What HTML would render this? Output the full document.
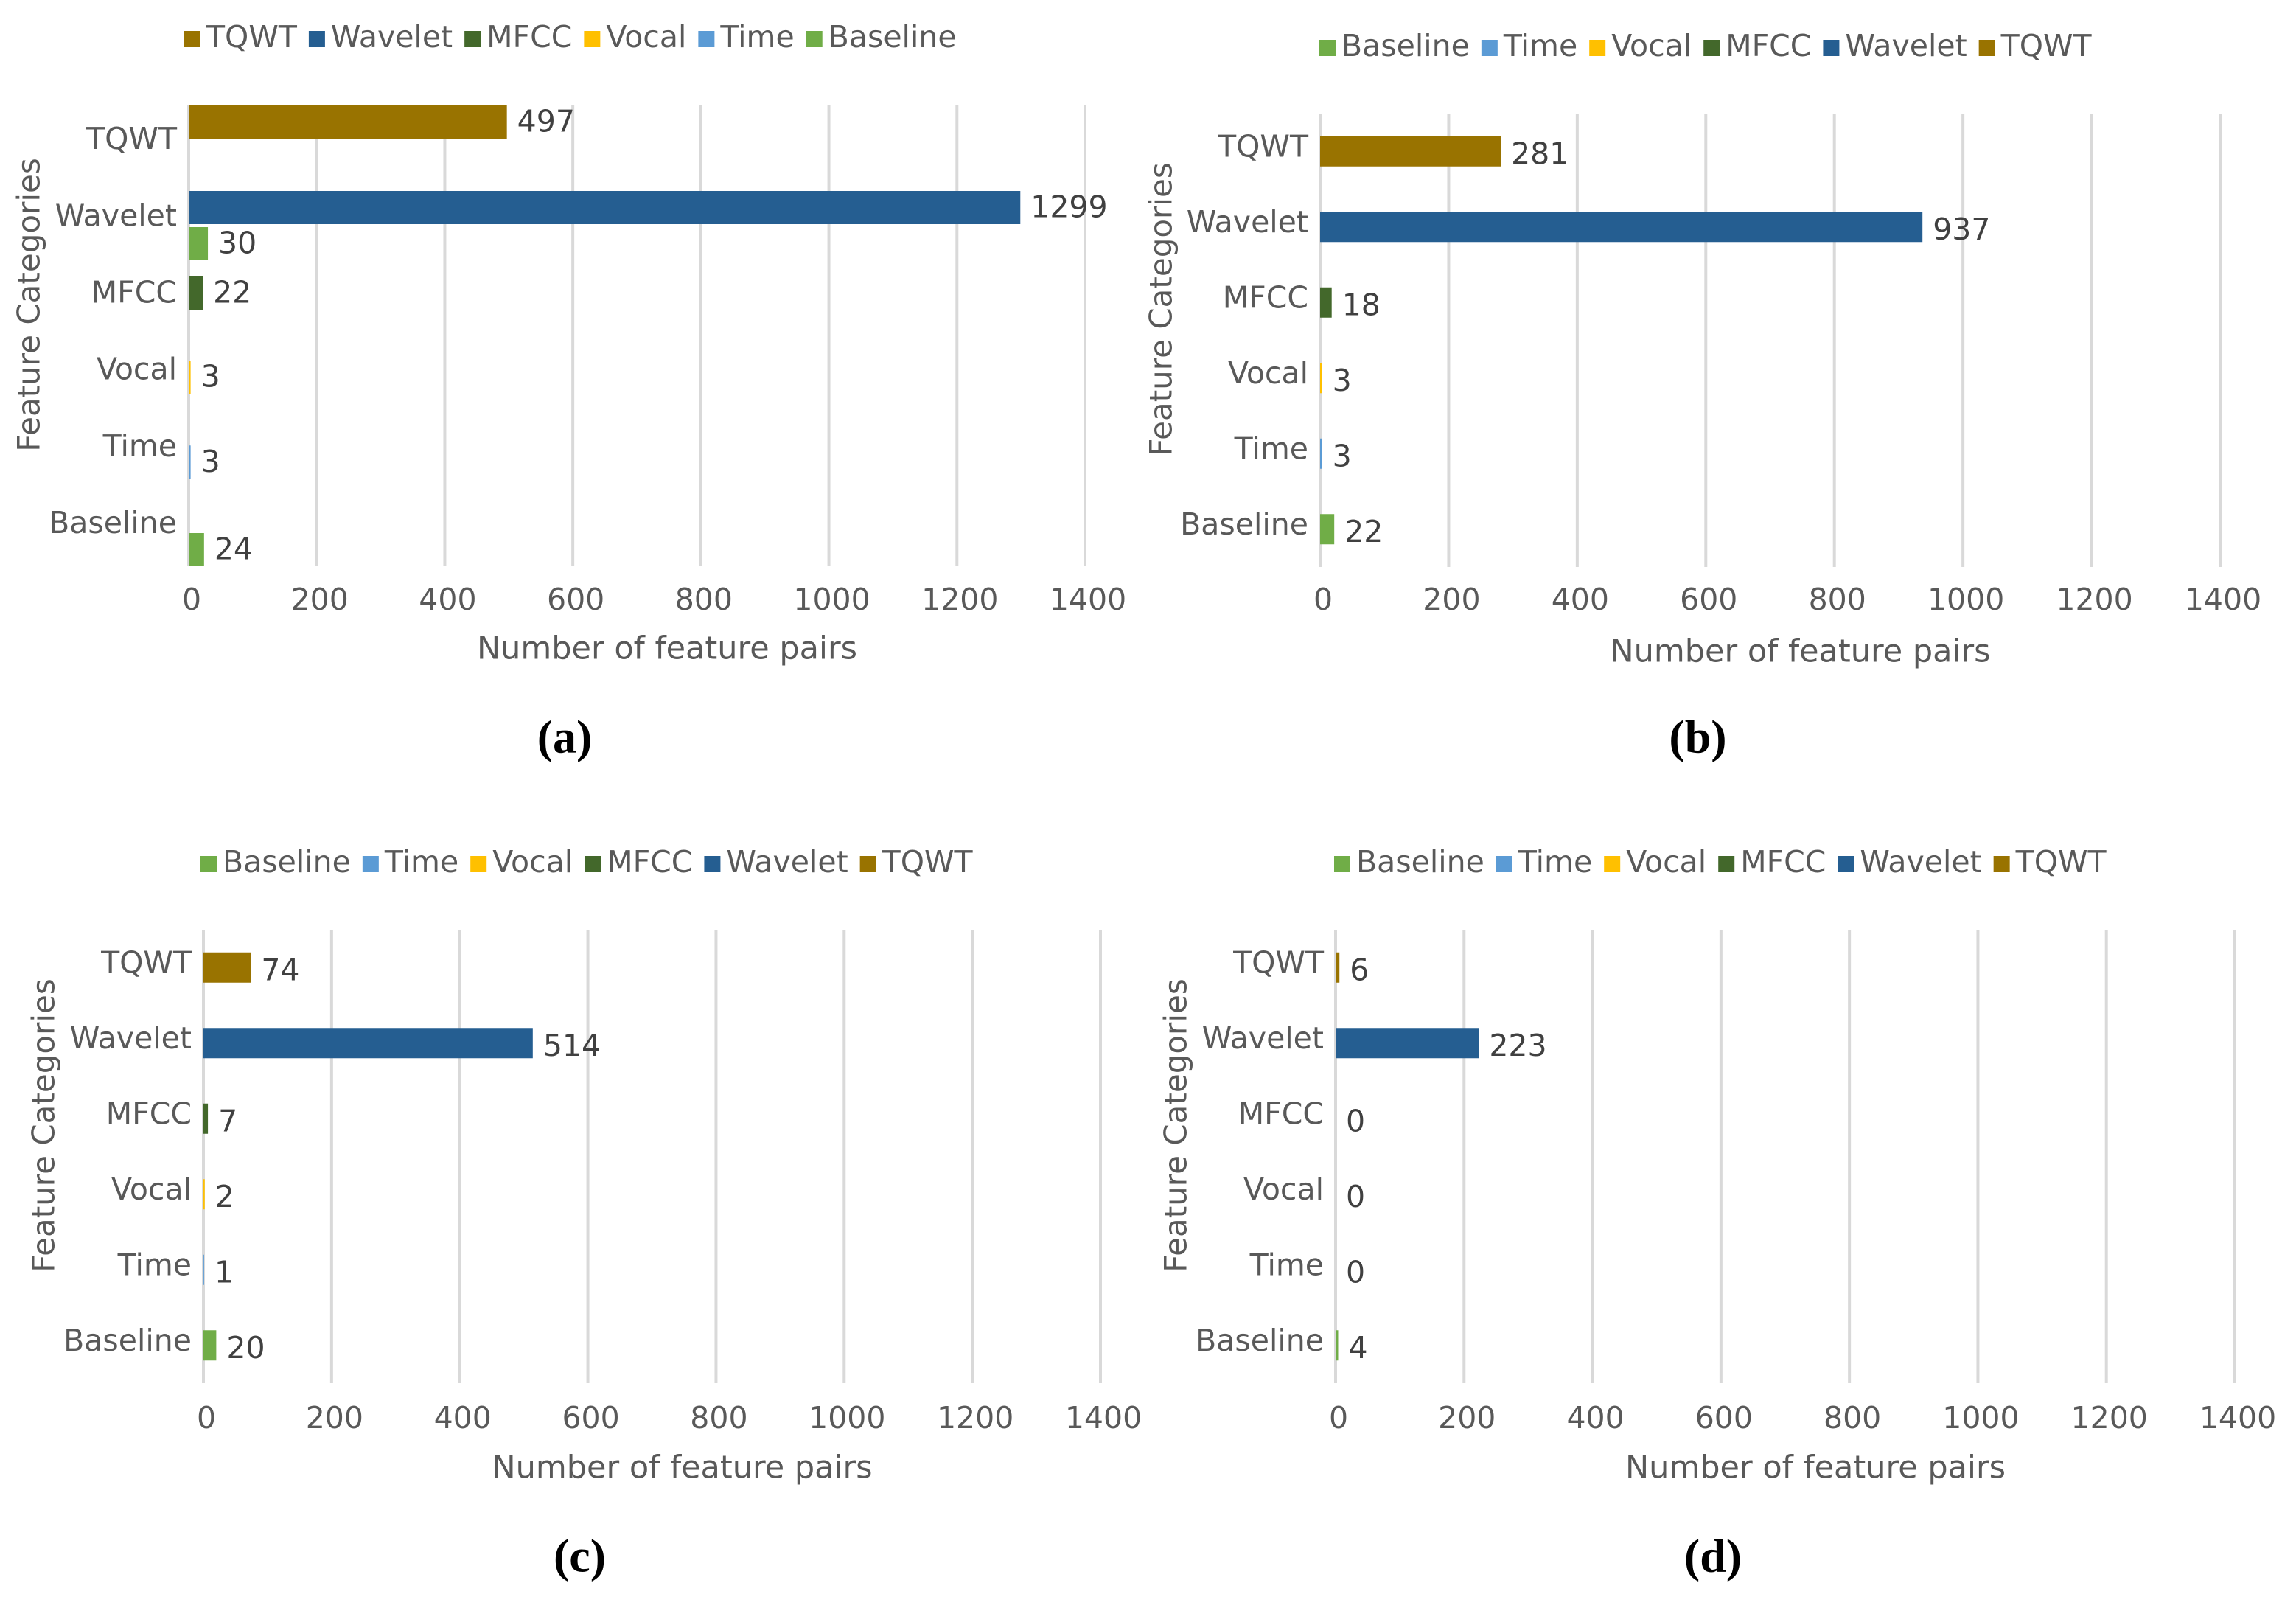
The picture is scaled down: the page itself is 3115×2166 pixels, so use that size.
<!DOCTYPE html>
<html><head><meta charset="utf-8"><style>
html,body{margin:0;padding:0;background:#fff;}
svg{display:block;}
text{font-family:"DejaVu Sans","Liberation Sans",sans-serif;}
</style></head><body>
<svg id="fig" width="3115" height="2166" viewBox="0 0 3115 2166" xmlns="http://www.w3.org/2000/svg"></svg>
<script>
const categories = ['TQWT','Wavelet','MFCC','Vocal','Time','Baseline'];
const xTicks = [0,200,400,600,800,1000,1200,1400];
const valuesA = [497,1299,22,3,3,24];
const valuesB = [281,937,18,3,3,22];
const valuesC = [74,514,7,2,1,20];
const valuesD = [6,223,0,0,0,4];
const extraCatsA = ['Wavelet'];
const extraValsA = [30];
const extraColorA = ['Baseline'];
const legendOrderA = ['TQWT','Wavelet','MFCC','Vocal','Time','Baseline'];
const legendOrderB = ['Baseline','Time','Vocal','MFCC','Wavelet','TQWT'];
const colors = {TQWT:'#997300',Wavelet:'#255e91',MFCC:'#43682b',Vocal:'#ffc000',Time:'#5b9bd5',Baseline:'#70ad47'};

const NS='http://www.w3.org/2000/svg';
const svg=document.getElementById('fig');
function el(tag,attrs,parent,txt){const e=document.createElementNS(NS,tag);for(const k in attrs)e.setAttribute(k,attrs[k]);if(txt!==undefined)e.textContent=txt;(parent||svg).appendChild(e);return e;}

const FS=41;
const panels=[
 {id:'a',vals:valuesA,legend:legendOrderA,x0:256,x1:1472,top:143,bot:768,legY:53,legX:250,ytX:42,tickY:816,titleY:882,capY:1006,barH:45,oddBars:true},
 {id:'b',vals:valuesB,legend:legendOrderB,x0:1791,x1:3012,top:154,bot:769,legY:65,legX:1790,ytX:1578,tickY:816,titleY:886,capY:1006,barH:41},
 {id:'c',vals:valuesC,legend:legendOrderB,x0:276,x1:1493,top:1261,bot:1876,legY:1172,legX:272,ytX:62,tickY:1926,titleY:1993,capY:2117,barH:41},
 {id:'d',vals:valuesD,legend:legendOrderB,x0:1812,x1:3032,top:1261,bot:1876,legY:1172,legX:1810,ytX:1598,tickY:1926,titleY:1993,capY:2117,barH:41}
];

panels.forEach(p=>{
  const g=el('g',{},svg);
  
  
  const xs=v=>p.x0+(v-xTicks[0])/(xTicks[xTicks.length-1]-xTicks[0])*(p.x1-p.x0);
  const band=(p.bot-p.top)/categories.length;
  const yc=i=>p.top+band*(i+0.5);
  xTicks.forEach(t=>{
    const l=el('line',{x1:xs(t),x2:xs(t),y1:p.top,y2:p.bot,stroke:'#d9d9d9','stroke-width':4},g);
    
    
    const tx=el('text',{x:xs(t)+4,y:p.tickY,'text-anchor':'middle','dominant-baseline':'middle','font-size':FS,fill:'#595959'},g,String(t));
    
    
  });
  categories.forEach((c,i)=>{
    const t=el('text',{x:p.x0-16,y:yc(i)-4,'text-anchor':'end','dominant-baseline':'middle','font-size':FS,fill:'#595959'},g,c);
    
    
  });
  const barY=i=>p.oddBars? p.top+i*((p.bot-p.top-p.barH)/(categories.length-1)) : yc(i)-p.barH/2;
  const drawBar=(v,y,color,name)=>{
    const w=Math.max(0,xs(v)-xs(0));
    const r=el('rect',{x:xs(0),y:y,width:w,height:p.barH,fill:color},g);
    
    
    const lt=el('text',{x:xs(0)+w+14,y:y+p.barH/2+(p.oddBars?2:6),'dominant-baseline':'middle','font-size':FS,fill:'#404040'},g,String(v));
    
    
  };
  categories.forEach((c,i)=>{
    let y=barY(i);
    if(p.oddBars && (c==='Vocal'||c==='Time')) y=yc(i)-p.barH/2+(c==='Time'?15:4);
    drawBar(p.vals[i],y,colors[c],'bar-'+c.toLowerCase());
  });
  if(p.oddBars){
    extraCatsA.forEach((c,k)=>{
      const i=categories.indexOf(c);
      drawBar(extraValsA[k],barY(i)+p.barH+4,colors[extraColorA[k]],'bar-extra-'+c.toLowerCase());
    });
  }
  let lx=p.legX;
  p.legend.forEach(c=>{
    const sw=el('rect',{x:lx,y:p.legY-11,width:22,height:22,fill:colors[c]},g);
    
    
    const t=el('text',{x:lx+30,y:p.legY,'dominant-baseline':'middle','font-size':FS,fill:'#595959'},g,c);
    
    
    lx+=30+t.getComputedTextLength()+16;
  });
  const xt=el('text',{x:(p.x0+p.x1)/2+41,y:p.titleY,'text-anchor':'middle','dominant-baseline':'middle','font-size':43,fill:'#595959'},g,'Number of feature pairs');
  
  
  const ym=(p.top+p.bot)/2-42;
  const yt=el('text',{x:p.ytX,y:ym,'text-anchor':'middle','dominant-baseline':'middle','font-size':42,fill:'#595959',transform:`rotate(-90 ${p.ytX} ${ym})`},g,'Feature Categories');
  
  
  const cap=el('text',{x:(p.x0+p.x1)/2-98,y:p.capY,'text-anchor':'middle','dominant-baseline':'middle','font-size':64,'font-weight':'bold',fill:'#000',style:'font-family:"Liberation Serif",serif'},g,'('+p.id+')');
  
  
});
</script>
</body></html>
